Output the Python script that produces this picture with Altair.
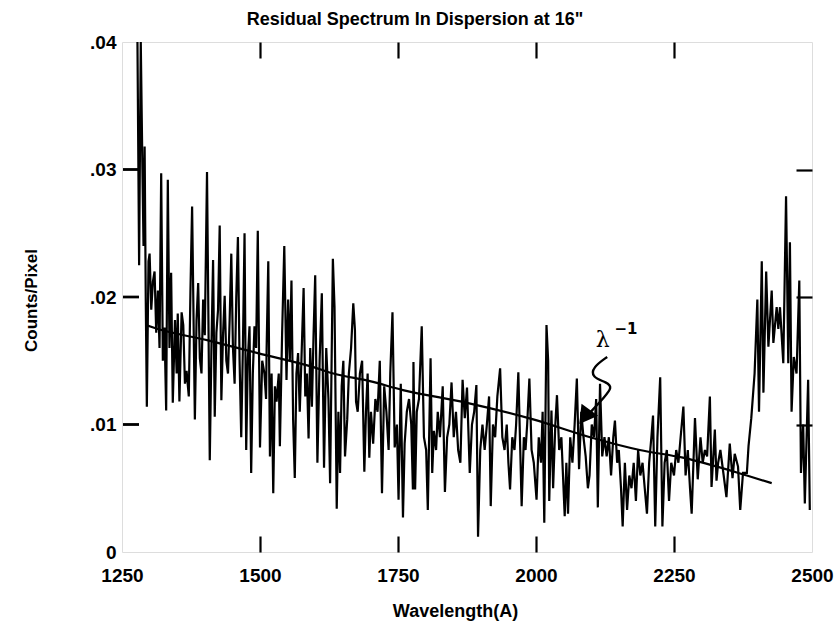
import altair as alt
import pandas as pd

# ---- data ----
wavelength = [
    1278, 1281, 1284, 1287, 1289, 1291, 1293, 1295, 1298, 1300, 1303, 1306, 1309, 1312, 1315, 1318,
    1321, 1324, 1327, 1330, 1333, 1336, 1339, 1342, 1346, 1349, 1351, 1354, 1358, 1361, 1364, 1367,
    1371, 1374, 1377, 1382, 1385, 1388, 1391, 1394, 1397, 1400, 1404, 1409, 1412, 1415, 1418, 1421,
    1424, 1427, 1430, 1433, 1436, 1439, 1442, 1445, 1448, 1451, 1454, 1457, 1460, 1463, 1466, 1469,
    1472, 1475, 1478, 1481, 1484, 1487, 1490, 1493, 1496, 1500, 1504, 1508, 1511,
    1512, 1515, 1518, 1521, 1524, 1527, 1530, 1534, 1536, 1540, 1544, 1548, 1551, 1554, 1557, 1560,
    1563, 1566, 1569, 1572, 1575, 1579, 1582, 1585, 1588, 1591, 1594, 1597, 1600, 1604, 1608, 1612,
    1616, 1620, 1624, 1627, 1632, 1635, 1639, 1642, 1645, 1648, 1651, 1654, 1658, 1661, 1665, 1669,
    1672, 1674, 1677, 1681, 1685, 1689, 1692, 1695, 1698, 1701, 1705, 1709, 1713, 1717, 1721, 1725,
    1729, 1733, 1736, 1740, 1744, 1748, 1751, 1755, 1759,
    1762, 1766, 1770, 1774, 1777, 1778, 1781, 1784, 1788, 1793, 1797, 1801, 1804, 1809, 1812, 1815,
    1819, 1822, 1826, 1831, 1835, 1839, 1843, 1847, 1851, 1855, 1859, 1863, 1867, 1871, 1875, 1880,
    1884, 1888, 1892, 1895, 1899, 1903, 1907, 1911, 1915, 1918, 1922, 1926, 1930, 1935, 1939, 1943,
    1947, 1950, 1953, 1957, 1961, 1964, 1968, 1974, 1978, 1981, 1984, 1988, 1992, 1996, 2001, 2005,
    2009, 2012, 2015, 2019, 2022, 2024, 2028, 2031, 2035, 2038, 2042, 2046, 2052, 2055, 2058, 2062,
    2066, 2070, 2074, 2078, 2082, 2086, 2090, 2094, 2097, 2101, 2105, 2109, 2112, 2116, 2120, 2124,
    2128, 2132, 2136, 2140, 2143, 2147, 2150, 2154, 2157, 2161, 2165, 2169, 2173, 2177, 2181, 2185,
    2189, 2193, 2197, 2201, 2205, 2209, 2212, 2216, 2220, 2225, 2229, 2233, 2237, 2241, 2245, 2250,
    2254, 2258, 2262, 2267, 2271, 2275, 2279, 2282, 2286, 2288, 2293, 2298, 2302, 2306, 2310, 2315,
    2318, 2324, 2327, 2330, 2334, 2340, 2345, 2351, 2356, 2360, 2366, 2370, 2375, 2382, 2385, 2390,
    2396, 2401, 2404, 2409, 2412, 2417, 2421, 2427, 2430, 2436, 2439, 2442, 2448, 2453, 2457, 2460,
    2463, 2467, 2472, 2477, 2480, 2484, 2487, 2493, 2496,
]
counts = [
    0.0400, 0.0225, 0.0400, 0.0300, 0.0240, 0.0318, 0.0200, 0.0114, 0.0228, 0.0234, 0.0190, 0.0212, 0.0220, 0.0172, 0.0205, 0.0160,
    0.0297, 0.0150, 0.0176, 0.0111, 0.0292, 0.0160, 0.0219, 0.0117, 0.0182, 0.0140, 0.0187, 0.0118, 0.0188, 0.0178, 0.0132, 0.0142,
    0.0122, 0.0205, 0.0271, 0.0104, 0.0182, 0.0211, 0.0152, 0.0140, 0.0198, 0.0170, 0.0298, 0.0072, 0.0160, 0.0229, 0.0106, 0.0172,
    0.0190, 0.0256, 0.0119, 0.0170, 0.0201, 0.0150, 0.0140, 0.0182, 0.0234, 0.0160, 0.0132, 0.0200, 0.0247, 0.0150, 0.0090, 0.0160,
    0.0250, 0.0080, 0.0152, 0.0177, 0.0062, 0.0140, 0.0177, 0.0160, 0.0252, 0.0082, 0.0150, 0.0140, 0.0120,
    0.0160, 0.0228, 0.0075, 0.0140, 0.0046, 0.0130, 0.0118, 0.0140, 0.0083, 0.0170, 0.0240, 0.0135, 0.0198, 0.0150, 0.0213, 0.0104,
    0.0058, 0.0140, 0.0156, 0.0110, 0.0150, 0.0207, 0.0122, 0.0140, 0.0089, 0.0160, 0.0114, 0.0170, 0.0217, 0.0070, 0.0150, 0.0203,
    0.0066, 0.0160, 0.0120, 0.0054, 0.0230, 0.0192, 0.0034, 0.0110, 0.0062, 0.0130, 0.0150, 0.0075, 0.0104, 0.0140, 0.0160, 0.0195,
    0.0174, 0.0118, 0.0110, 0.0140, 0.0150, 0.0063, 0.0110, 0.0140, 0.0074, 0.0110, 0.0085, 0.0120, 0.0110, 0.0150, 0.0046, 0.0130,
    0.0110, 0.0080, 0.0140, 0.0188, 0.0082, 0.0100, 0.0041, 0.0132, 0.0027,
    0.0085, 0.0110, 0.0120, 0.0100, 0.0049, 0.0149, 0.0049, 0.0110, 0.0120, 0.0177, 0.0090, 0.0080, 0.0033, 0.0152, 0.0062, 0.0095,
    0.0080, 0.0110, 0.0090, 0.0130, 0.0047, 0.0090, 0.0100, 0.0133, 0.0090, 0.0110, 0.0080, 0.0070, 0.0135, 0.0105, 0.0129, 0.0062,
    0.0100, 0.0110, 0.0131, 0.0012, 0.0080, 0.0100, 0.0080, 0.0100, 0.0122, 0.0036, 0.0100, 0.0090, 0.0122, 0.0144, 0.0090, 0.0080,
    0.0100, 0.0070, 0.0049, 0.0090, 0.0080, 0.0100, 0.0141, 0.0036, 0.0090, 0.0080, 0.0100, 0.0136, 0.0080, 0.0070, 0.0041, 0.0090,
    0.0070, 0.0110, 0.0023, 0.0178, 0.0150, 0.0040, 0.0111, 0.0050, 0.0100, 0.0123, 0.0080, 0.0090, 0.0028, 0.0070, 0.0030, 0.0090,
    0.0070, 0.0100, 0.0136, 0.0065, 0.0110, 0.0090, 0.0075, 0.0050, 0.0060, 0.0100, 0.0090, 0.0120, 0.0035, 0.0132, 0.0075, 0.0090,
    0.0075, 0.0090, 0.0060, 0.0090, 0.0103, 0.0070, 0.0080, 0.0050, 0.0020, 0.0070, 0.0033, 0.0060, 0.0050, 0.0070, 0.0040, 0.0080,
    0.0060, 0.0070, 0.0050, 0.0030, 0.0070, 0.0090, 0.0107, 0.0020, 0.0090, 0.0137, 0.0020, 0.0070, 0.0080, 0.0040, 0.0070, 0.0060,
    0.0080, 0.0070, 0.0090, 0.0114, 0.0060, 0.0080, 0.0050, 0.0030, 0.0080, 0.0105, 0.0057, 0.0090, 0.0070, 0.0080, 0.0075, 0.0122,
    0.0051, 0.0096, 0.0056, 0.0070, 0.0080, 0.0060, 0.0043, 0.0085, 0.0058, 0.0077, 0.0067, 0.0033, 0.0062, 0.0062, 0.0083, 0.0105,
    0.0140, 0.0198, 0.0110, 0.0228, 0.0125, 0.0220, 0.0161, 0.0205, 0.0164, 0.0192, 0.0175, 0.0192, 0.0148, 0.0279, 0.0148, 0.0243,
    0.0110, 0.0153, 0.0140, 0.0213, 0.0062, 0.0100, 0.0038, 0.0135, 0.0033,
]

# smooth lambda^-1 curve
curve_wl = [1294, 1300, 1406, 1496, 1597, 1633, 1699, 1759, 1875, 1995, 2098, 2188, 2266, 2382, 2427]
curve_counts = [0.0178, 0.0177, 0.0166, 0.0156, 0.0145, 0.0140, 0.0134, 0.0127, 0.0117, 0.0104,
                0.0090, 0.0080, 0.0074, 0.0060, 0.0054]

# hand-drawn annotation (squiggle + arrowhead + label)
squiggle_wl = [2129, 2103, 2101, 2129, 2138, 2125, 2095]
squiggle_counts = [0.0153, 0.0145, 0.0137, 0.0133, 0.0129, 0.0122, 0.0108]
arrow_wl = [2088]
arrow_counts = [0.0106]
label_texts = ["λ", "−1"]
label_wl = [2121, 2163]
label_counts = [0.0166, 0.0175]

x_labels = [1250, 1500, 1750, 2000, 2250, 2500]
x_ticks = [1500, 1750, 2000, 2250]
y_labels = [0, 0.01, 0.02, 0.03, 0.04]
y_ticks = [0.01, 0.02, 0.03]

W, H = 690, 510
TS = 16
FONT = "Liberation Sans"

spec_df = pd.DataFrame({"wl": wavelength, "cnt": counts})
curve_df = pd.DataFrame({"wl": curve_wl, "cnt": curve_counts})
sq_df = pd.DataFrame({"wl": squiggle_wl, "cnt": squiggle_counts, "o": list(range(len(squiggle_wl)))})
arrow_df = pd.DataFrame({"wl": arrow_wl, "cnt": arrow_counts})
lab_df = pd.DataFrame({"t": label_texts, "wl": label_wl, "cnt": label_counts})
yt_df = pd.DataFrame({"cnt": y_ticks})

xs = alt.Scale(domain=[1250, 2500], nice=False, zero=False)
ys = alt.Scale(domain=[0, 0.04], nice=False)

tick_common = dict(labels=False, domain=False, grid=False, tickSize=TS, tickWidth=2.2,
                   tickColor="black", title=None)

x_label_axis = alt.Axis(values=x_labels, format="d", ticks=False, domain=False, grid=False,
                        labelFont=FONT, labelFontSize=19, labelFontWeight="bold", labelColor="black",
                        labelPadding=14, labelFlush=False, labelOverlap=False,
                        title="Wavelength(A)", titleFont=FONT, titleFontSize=18, titleFontWeight="bold",
                        titleColor="black", titleX=333, titleY=50, titleAnchor="middle",
                        titleAlign="center")
y_label_axis = alt.Axis(values=y_labels, ticks=False, domain=False, grid=False,
                        labelExpr="datum.value == 0 ? '0' : '.' + format(datum.value * 100, '02d')",
                        labelFont=FONT, labelFontSize=19, labelFontWeight="bold", labelColor="black",
                        labelPadding=6, labelFlush=False, labelOverlap=False,
                        title="Counts/Pixel", titleFont=FONT, titleFontSize=17, titleFontWeight="bold",
                        titleColor="black", titleX=-91, titleY=258, titleAngle=-90,
                        titleAlign="center", titleBaseline="middle")

# left-edge inward ticks drawn as short rules
ticks_left = alt.Chart(yt_df).mark_rule(color="black", strokeWidth=2.4).encode(
    y=alt.Y("cnt:Q", scale=ys, axis=None), x=alt.value(1), x2=alt.value(TS + 1))

spectrum = alt.Chart(spec_df).mark_line(color="black", strokeWidth=2.2, clip=True).encode(
    x=alt.X("wl:Q", scale=xs, axis=x_label_axis),
    y=alt.Y("cnt:Q", scale=ys, axis=y_label_axis),
    order="wl:Q",
)

# curve layer carries inward ticks for the bottom edge and the right edge
curve = alt.Chart(curve_df).mark_line(color="black", strokeWidth=2.2, interpolate="monotone").encode(
    x=alt.X("wl:Q", scale=xs, axis=alt.Axis(orient="top", offset=-H, values=x_ticks, **tick_common)),
    y=alt.Y("cnt:Q", scale=ys, axis=alt.Axis(orient="left", offset=-W, values=y_ticks, **tick_common)),
)

# squiggle layer carries inward ticks for the top edge
squiggle = alt.Chart(sq_df).mark_line(color="black", strokeWidth=2.4, interpolate="basis").encode(
    x=alt.X("wl:Q", scale=xs, axis=alt.Axis(orient="bottom", offset=-H, values=x_ticks, **tick_common)),
    y=alt.Y("cnt:Q", scale=ys, axis=None),
    order="o:Q",
)

arrow = alt.Chart(arrow_df).mark_point(shape="triangle-up", filled=True, color="black",
                                       size=420, angle=216, opacity=1).encode(
    x=alt.X("wl:Q", scale=xs, axis=None),
    y=alt.Y("cnt:Q", scale=ys, axis=None),
)

lam = alt.Chart(lab_df.iloc[[0]]).mark_text(font="DejaVu Serif", fontSize=22, color="black").encode(
    x=alt.X("wl:Q", scale=xs, axis=None),
    y=alt.Y("cnt:Q", scale=ys, axis=None),
    text="t:N",
)
sup = alt.Chart(lab_df.iloc[[1]]).mark_text(font="DejaVu Sans", fontSize=15, fontWeight="bold",
                                            color="black").encode(
    x=alt.X("wl:Q", scale=xs, axis=None),
    y=alt.Y("cnt:Q", scale=ys, axis=None),
    text="t:N",
)

chart = alt.layer(
    ticks_left, spectrum, curve, squiggle, arrow, lam, sup, ticks_left
).resolve_axis(
    x="independent", y="independent"
).properties(
    width=W, height=H,
    padding={"left": 122, "top": 42, "right": 22, "bottom": 80},
    autosize=alt.AutoSizeParams(type="none"),
    title=alt.TitleParams(text='Residual Spectrum In Dispersion at 16"', font=FONT, fontSize=18,
                          fontWeight="bold", color="black", anchor="middle", frame="group",
                          dx=-52, offset=4),
).configure_view(stroke="black", strokeWidth=2.5).configure(background="white")

chart.save("out.html", embed_options={"renderer": "svg", "actions": False})
